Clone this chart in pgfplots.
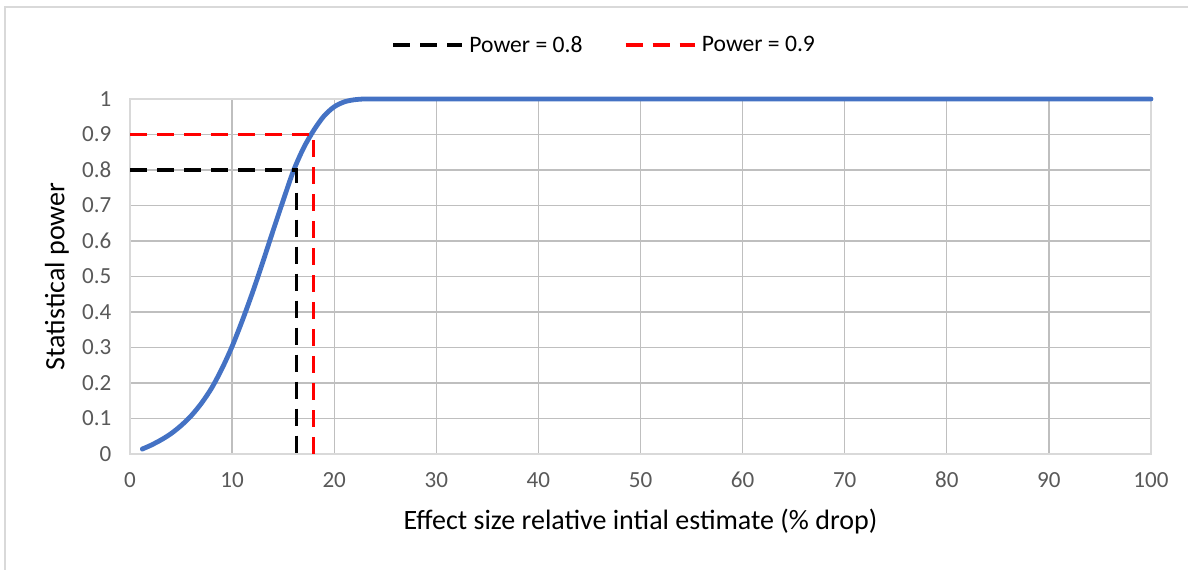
\documentclass[border=0pt]{standalone}
\usepackage{pgfplots}
\pgfplotsset{compat=1.18}
\usepackage{fontspec}
\setmainfont{Carlito}
\definecolor{grid}{HTML}{D9D9D9}
\definecolor{ticktext}{HTML}{595959}
\definecolor{curve}{HTML}{4472C4}
\definecolor{pred}{HTML}{FF0000}
\begin{document}
\begin{tikzpicture}
\path[use as bounding box] (0pt,0pt) rectangle (891pt,426.75pt);
\draw[grid, line width=1.1pt] (3.75pt,-5pt) -- (3.75pt,421.5pt) -- (900pt,421.5pt);
\begin{axis}[
  at={(97.5pt,86.25pt)}, anchor=south west,
  scale only axis, width=765.75pt, height=266.25pt,
  xmin=0, xmax=100, ymin=0, ymax=1,
  xtick={0,10,...,100}, ytick={0,0.1,...,1},
  yticklabels={0,0.1,0.2,0.3,0.4,0.5,0.6,0.7,0.8,0.9,1},
  grid=major, major grid style={grid, line width=1pt},
  axis line style={grid, line width=1pt},
  tick style={draw=none},
  /pgf/number format/assume math mode=true,
  tick label style={font=\fontsize{17.3}{20}\selectfont, text=ticktext},
  yticklabel style={xshift=-10.5pt},
  xticklabel style={yshift=-10pt},
  xlabel={Effect size relative intial estimate (\% drop)},
  ylabel={Statistical power},
  label style={font=\fontsize{21}{24}\selectfont, text=black},
  xlabel style={at={(axis description cs:0.5,-0.191)}, anchor=center},
  ylabel style={at={(axis description cs:-0.0715,0.5)}, anchor=center, rotate=0},
  clip=false,
  legend columns=2,
  legend style={at={(axis description cs:0.466,1.152)}, anchor=center, draw=none, fill=none,
    font=\fontsize{17.7}{20}\selectfont, /tikz/every even column/.append style={column sep=27pt},
    nodes={inner xsep=4pt}},
  legend image code/.code={\draw[#1] (0pt,0pt) -- (52pt,0pt);},
]
\addplot[curve, line width=3.6pt, line cap=round, line join=round, smooth, tension=0.5, forget plot] coordinates {
(1.2,0.014) (2,0.024) (3,0.039) (4,0.057) (5,0.080) (6,0.108) (7,0.143) (8,0.186)
(9,0.240) (10,0.303) (11,0.376) (12,0.455) (13,0.540) (14,0.628) (15,0.714)
(16,0.797) (17,0.862) (18,0.912) (19,0.952) (20,0.978) (21,0.992) (22,0.998)
(23,1.0) (25,1.0) (40,1.0) (100,1.0)};
\addplot[black, line width=2.6pt, dash pattern=on 12.75pt off 7.5pt] coordinates {(0,0.8) (16.3,0.8) (16.3,0)};
\addlegendentry{Power = 0.8}
\addplot[pred, line width=2.6pt, dash pattern=on 12.75pt off 7.5pt] coordinates {(0,0.9) (17.95,0.9) (17.95,0)};
\addlegendentry{Power = 0.9}
\end{axis}
\end{tikzpicture}
\end{document}
